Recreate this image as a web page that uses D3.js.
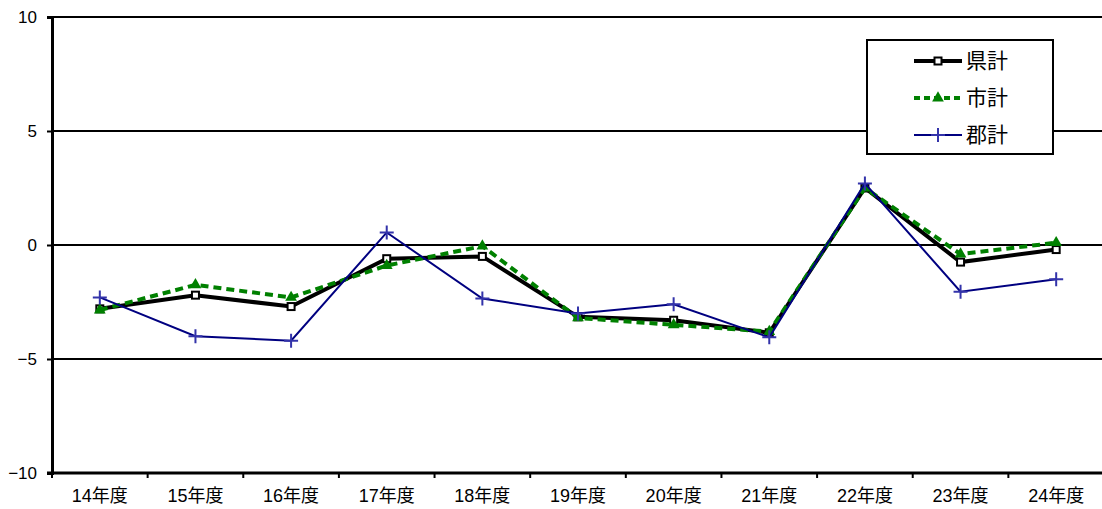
<!DOCTYPE html>
<html>
<head>
<meta charset="utf-8">
<script src="https://cdn.jsdelivr.net/npm/d3@7"></script>
<style>
  body { margin: 0; background: #fff; }
  text { font-family: "Liberation Sans", Arial, "Noto Sans CJK JP", sans-serif; }
</style>
</head>
<body>
<div id="chart"></div>
<script>
(function(d3) {
  'use strict';

  var categories = ['14年度', '15年度', '16年度', '17年度', '18年度', '19年度', '20年度', '21年度', '22年度', '23年度', '24年度'];
  var kenValues = [-2.8, -2.2, -2.7, -0.6, -0.5, -3.15, -3.3, -3.85, 2.5, -0.75, -0.2];
  var shiValues = [-2.85, -1.75, -2.3, -0.9, -0.05, -3.2, -3.5, -3.8, 2.5, -0.4, 0.1];
  var gunValues = [-2.3, -4.0, -4.2, 0.55, -2.35, -3.0, -2.6, -4.05, 2.7, -2.05, -1.5];
  var yTicks = [-10, -5, 0, 5, 10];
  var seriesNames = ['県計', '市計', '郡計'];

  var width = 1102;
  var height = 509;
  var left = 52, right = 1104, top = 17, bottom = 473;

  var svg = d3.select('#chart')
    .append('svg')
    .attr('width', width)
    .attr('height', height);

  var x = d3.scaleBand()
    .domain(categories)
    .range([left, right]);

  var y = d3.scaleLinear()
    .domain([-10, 10])
    .range([bottom, top]);

  // gridlines
  svg.append('g')
    .selectAll('line')
    .data(yTicks.filter(function(d) { return d > -10; }))
    .enter()
    .append('line')
    .attr('x1', left)
    .attr('x2', width)
    .attr('y1', function(d) { return y(d); })
    .attr('y2', function(d) { return y(d); })
    .attr('stroke', '#000')
    .attr('stroke-width', 2);

  // y axis
  var yAxis = svg.append('g')
    .attr('transform', 'translate(' + left + ',0)')
    .call(d3.axisLeft(y).tickValues(yTicks).tickSize(5).tickPadding(10)
      .tickFormat(function(d) { return String(d).replace('-', '\u2212'); }));
  yAxis.select('.domain').attr('stroke-width', 3);
  yAxis.selectAll('.tick line').attr('stroke-width', 2);
  yAxis.selectAll('text').attr('font-size', 17).attr('fill', '#000');

  // x axis
  var xAxis = svg.append('g')
    .attr('transform', 'translate(0,' + bottom + ')')
    .call(d3.axisBottom(x).tickSize(0).tickPadding(16));
  xAxis.select('.domain').remove();
  xAxis.selectAll('text').attr('font-size', 18).attr('fill', '#000');
  svg.append('line')
    .attr('x1', left - 5).attr('x2', width)
    .attr('y1', bottom).attr('y2', bottom)
    .attr('stroke', '#000').attr('stroke-width', 3);
  svg.append('g')
    .selectAll('line')
    .data(categories)
    .enter()
    .append('line')
    .attr('x1', function(d) { return x(d); })
    .attr('x2', function(d) { return x(d); })
    .attr('y1', bottom)
    .attr('y2', bottom + 5)
    .attr('stroke', '#000')
    .attr('stroke-width', 2);

  var cx = function(d, i) { return x(categories[i]) + x.bandwidth() / 2; };
  var line = d3.line()
    .x(cx)
    .y(function(d) { return y(d); });

  var tri = d3.symbol().type(d3.symbolTriangle).size(60);

  // 県計
  svg.append('path')
    .attr('d', line(kenValues))
    .attr('fill', 'none')
    .attr('stroke', '#000')
    .attr('stroke-width', 4);
  svg.append('g')
    .selectAll('rect')
    .data(kenValues)
    .enter()
    .append('rect')
    .attr('x', function(d, i) { return cx(d, i) - 3.5; })
    .attr('y', function(d) { return y(d) - 3.5; })
    .attr('width', 7)
    .attr('height', 7)
    .attr('fill', '#fff')
    .attr('stroke', '#000')
    .attr('stroke-width', 2);

  // 市計
  svg.append('path')
    .attr('d', line(shiValues))
    .attr('fill', 'none')
    .attr('stroke', '#008000')
    .attr('stroke-width', 4)
    .attr('stroke-dasharray', '8,5');
  svg.append('g')
    .selectAll('path')
    .data(shiValues)
    .enter()
    .append('path')
    .attr('d', tri)
    .attr('transform', function(d, i) { return 'translate(' + cx(d, i) + ',' + y(d) + ')'; })
    .attr('fill', '#008000');

  // 郡計
  svg.append('path')
    .attr('d', line(gunValues))
    .attr('fill', 'none')
    .attr('stroke', '#000080')
    .attr('stroke-width', 2);
  svg.append('g')
    .selectAll('path')
    .data(gunValues)
    .enter()
    .append('path')
    .attr('d', function(d, i) {
      var px = cx(d, i), py = y(d);
      return 'M' + (px - 7) + ',' + py + 'H' + (px + 7) + 'M' + px + ',' + (py - 7) + 'V' + (py + 7);
    })
    .attr('stroke', '#3333aa')
    .attr('stroke-width', 2);

  // legend
  var legend = svg.append('g').attr('transform', 'translate(867,40)');
  legend.append('rect')
    .attr('width', 186)
    .attr('height', 114)
    .attr('fill', '#fff')
    .attr('stroke', '#000')
    .attr('stroke-width', 2);

  var rows = legend.selectAll('.legend')
    .data(seriesNames)
    .enter()
    .append('g')
    .attr('class', 'legend')
    .attr('transform', function(d, i) { return 'translate(0,' + (21 + i * 37) + ')'; });

  rows.append('line')
    .attr('x1', 47).attr('x2', 95)
    .attr('y1', 0).attr('y2', 0)
    .attr('stroke', function(d, i) { return ['#000', '#008000', '#000080'][i]; })
    .attr('stroke-width', function(d, i) { return [4, 4, 2][i]; })
    .attr('stroke-dasharray', function(d, i) { return i === 1 ? '6,4' : null; });

  rows.filter(function(d, i) { return i === 0; })
    .append('rect')
    .attr('x', 67.5).attr('y', -3.5).attr('width', 7).attr('height', 7)
    .attr('fill', '#fff').attr('stroke', '#000').attr('stroke-width', 2);
  rows.filter(function(d, i) { return i === 1; })
    .append('path')
    .attr('d', tri)
    .attr('transform', 'translate(71,0)')
    .attr('fill', '#008000');
  rows.filter(function(d, i) { return i === 2; })
    .append('path')
    .attr('d', 'M64,0H78M71,-7V7')
    .attr('stroke', '#3333aa')
    .attr('stroke-width', 2);

  rows.append('text')
    .attr('x', 99)
    .attr('y', 0)
    .attr('dy', '0.35em')
    .attr('font-size', 21)
    .style('font-family', '"Noto Sans CJK JP", sans-serif')
    .text(function(d) { return d; });

})(window.d3);
</script>
</body>
</html>
